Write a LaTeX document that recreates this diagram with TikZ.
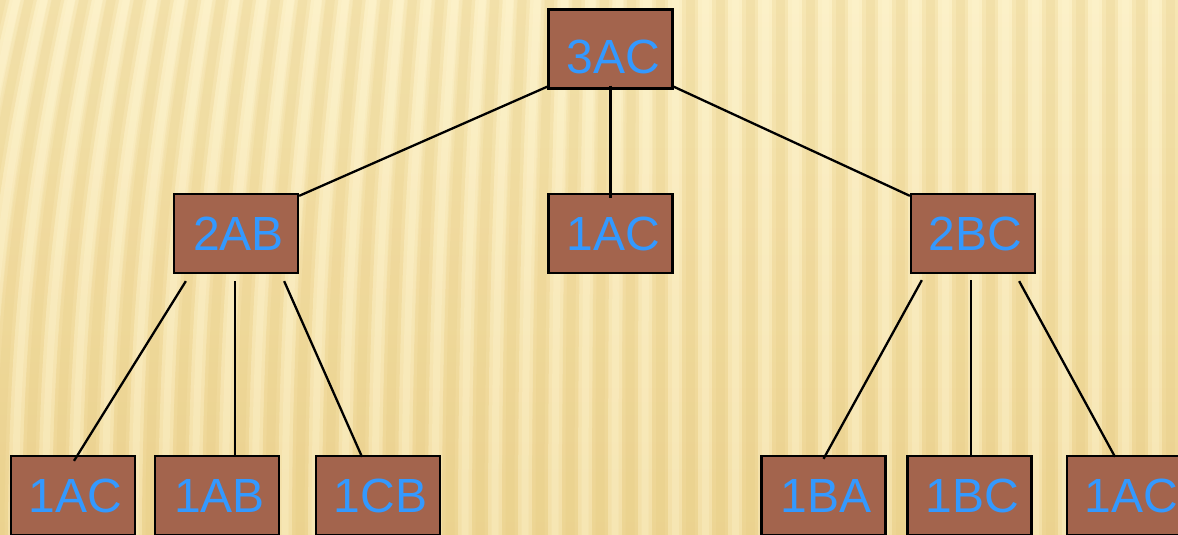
\documentclass[tikz,border=0pt]{standalone}
\usepackage{fontspec}
\setmainfont{Liberation Sans}
\usetikzlibrary{calc}

\definecolor{bgtop}{RGB}{250,236,190}
\definecolor{bgbot}{RGB}{240,216,152}
\definecolor{stripedark}{RGB}{225,196,118}
\definecolor{stripelight}{RGB}{255,248,215}
\definecolor{boxfill}{RGB}{163,100,77}
\definecolor{labelblue}{RGB}{51,153,255}

\begin{document}
\begin{tikzpicture}[x=1pt,y=-1pt,
  treebox/.style={draw=black, line width=2.3pt, fill=boxfill,
    minimum width=124pt, minimum height=79pt, inner sep=0pt,
    text=labelblue, font=\fontsize{48}{52}\selectfont,
    execute at begin node=\hspace*{5pt}},
  edge/.style={line width=2.3pt, draw=black}]

\useasboundingbox (0,0) rectangle (1178,535);

% striped paper background
\begin{scope}
  \clip (0,0) rectangle (1178,535);
  \shade[top color=bgtop, bottom color=bgbot] (0,0) rectangle (1178,535);
  \foreach \i in {-3,...,40} {
    \pgfmathsetmacro{\xb}{\i*30}
    \pgfmathsetmacro{\s}{max(0,650-\xb)*0.09}
    \pgfmathsetmacro{\xl}{\xb+15}
    \draw[stripedark, line width=16pt, opacity=0.14]
      (\xb,545) .. controls (\xb,300) and (\xb+0.4*\s,150) .. (\xb+\s,-10);
    \draw[stripedark, line width=9pt, opacity=0.16]
      (\xb,545) .. controls (\xb,300) and (\xb+0.4*\s,150) .. (\xb+\s,-10);
    \draw[stripelight, line width=14pt, opacity=0.25]
      (\xl,545) .. controls (\xl,300) and (\xl+0.4*\s,150) .. (\xl+\s,-10);
    \draw[stripelight, line width=7pt, opacity=0.25]
      (\xl,545) .. controls (\xl,300) and (\xl+0.4*\s,150) .. (\xl+\s,-10);
  }
\end{scope}

% tree of moves
\node[treebox, label={[text=labelblue, font=\fontsize{48}{52}\selectfont, yshift=-8pt, xshift=3pt]center:3AC}] (n3AC) at (610.5,49) {\phantom{3AC}};

\node[treebox] (n2AB)  at (236,233.5)   {2AB};
\node[treebox] (n1ACm) at (610.5,233.5) {1AC};
\node[treebox] (n2BC)  at (973,233.5)   {2BC};

\node[treebox] (n1ACa) at (73,495.5)    {1AC};
\node[treebox] (n1AB)  at (217,495.5)   {1AB};
\node[treebox] (n1CB)  at (378,495.5)   {1CB};
\node[treebox] (n1BA)  at (823.5,495.5) {1BA};
\node[treebox] (n1BC)  at (969.5,495.5) {1BC};
\node[treebox] (n1ACr) at (1129,495.5)  {1AC};

% connectors
\draw[edge] ($(n3AC.south west)+(0,-3)$) -- ($(n2AB.north east)+(0,3)$);
\draw[edge] ($(n3AC.south)+(0,-4)$) -- ($(n1ACm.north)+(0,5)$);
\draw[edge] ($(n3AC.south east)+(0,-3)$) -- ($(n2BC.north west)+(0,3)$);

\draw[edge] ($(n2AB.south west)+(13,7)$) -- ($(n1ACa.north)+(1,6)$);
\draw[edge] ($(n2AB.south)+(-1,7)$) -- ($(n1AB.north)+(18,1)$);
\draw[edge] ($(n2AB.south east)+(-15,7)$) -- ($(n1CB.north)+(-16,2)$);

\draw[edge] ($(n2BC.south west)+(12,6)$) -- ($(n1BA.north)+(0,4)$);
\draw[edge] ($(n2BC.south)+(-2,6)$) -- ($(n1BC.north)+(1.5,2)$);
\draw[edge] ($(n2BC.south east)+(-17,7)$) -- ($(n1ACr.north)+(-14,2)$);
\end{tikzpicture}
\end{document}
